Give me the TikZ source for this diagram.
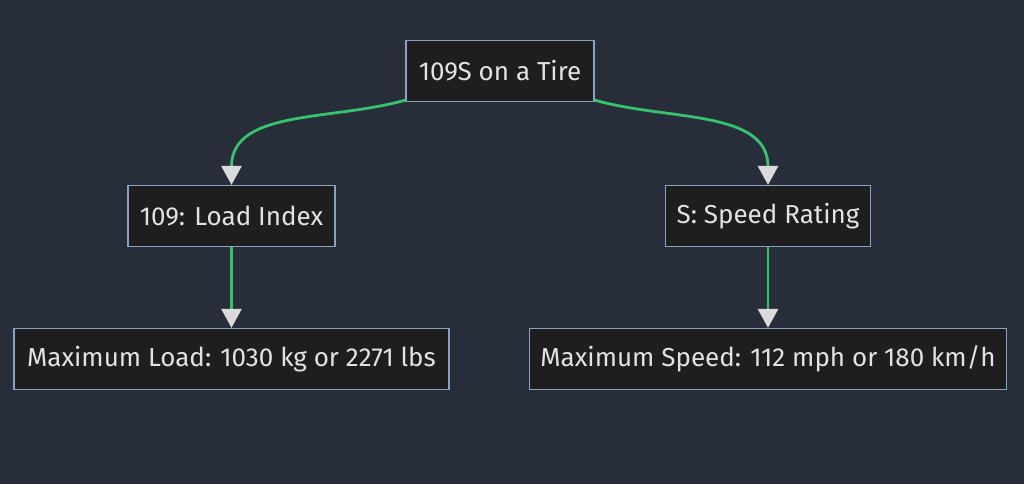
\documentclass[tikz,border=0pt]{standalone}
\usepackage{fontspec}
\setmainfont{Fira Sans}
\usetikzlibrary{arrows.meta,positioning,calc}

\definecolor{bgnavy}{HTML}{282D3A}
\definecolor{boxfill}{HTML}{1E1E1E}
\definecolor{boxline}{HTML}{87A2C2}
\definecolor{boxtext}{HTML}{E2E2E2}
\definecolor{linkgreen}{HTML}{35C46E}
\definecolor{tipgrey}{HTML}{DADADA}

\begin{document}
\begin{tikzpicture}[x=1pt,y=1pt,
  box/.style={draw=boxline, fill=boxfill, text=boxtext, line width=1.2pt,
    minimum height=61pt, inner xsep=11pt, font=\fontsize{26}{30}\selectfont},
  link/.style={draw=linkgreen, line width=2.8pt,
    -{Triangle[width=20pt,length=19pt,color=tipgrey]}}]

% Background
\fill[bgnavy] (0,0) rectangle (1024,484);
\useasboundingbox (0,0) rectangle (1024,484);

% Nodes
\node[box, minimum width=188pt] (tire) at (500,413) {109S on a Tire};
\node[box, minimum width=207pt] (load) at (231.5,268) {109: Load Index};
\node[box, minimum width=204pt] (speed) at (768,268) {S: Speed Rating};
\node[box, minimum width=435pt] (maxload) at (231.5,125) {Maximum Load: 1030 kg or 2271 lbs};
\node[box, minimum width=476pt] (maxspeed) at (768,125) {Maximum Speed: 112 mph or 180 km/h};

% Links
\draw[link] ([yshift=2pt]tire.south west) to[out=196,in=90] (load.north);
\draw[link] ([yshift=2pt]tire.south east) to[out=-16,in=90] (speed.north);
\draw[link] (load) -- (maxload);
\draw[link] (speed) -- (maxspeed);

\end{tikzpicture}
\end{document}
